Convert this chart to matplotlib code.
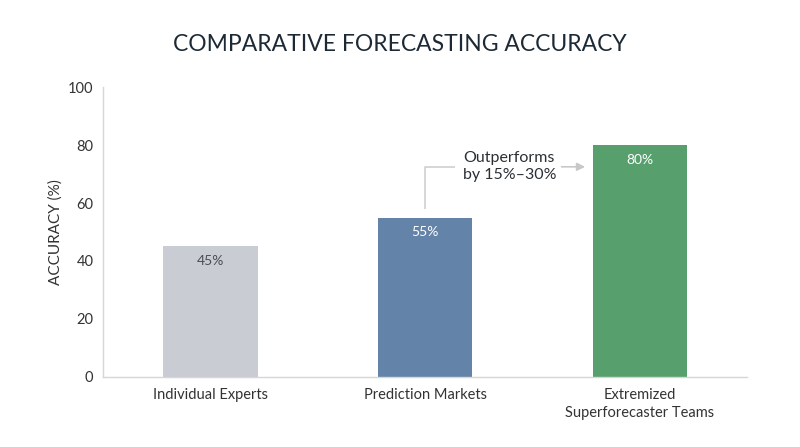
import matplotlib
matplotlib.use("Agg")
import matplotlib.pyplot as plt

plt.rcParams['font.family'] = ['Lato', 'DejaVu Sans']

categories = ['Individual Experts', 'Prediction Markets', 'Extremized\nSuperforecaster Teams']
accuracy = [45, 55, 80]
bar_labels = ['45%', '55%', '80%']
colors = ['#c9ccd2', '#6383a9', '#57a06d']
label_colors = ['#4a4f55', '#ffffff', '#ffffff']
yticks = [0, 20, 40, 60, 80, 100]
note = 'Outperforms\nby 15%–30%'

fig = plt.figure(figsize=(8, 4.47), dpi=100)
ax = fig.add_axes([0.129, 0.157, 0.805, 0.648])

x = range(len(categories))
bars = ax.bar(x, accuracy, width=0.44, color=colors)

for b, lab, c in zip(bars, bar_labels, label_colors):
    ax.text(b.get_x() + b.get_width() / 2, b.get_height() - 5, lab,
            ha='center', va='center', fontsize=10, color=c)

ax.set_xlim(-0.5, 2.5)
ax.set_ylim(0, 100)
ax.set_yticks(yticks)
ax.set_xticks(list(x))
ax.set_xticklabels(categories, fontsize=10.5, color='#333333', linespacing=1.35)
ax.tick_params(axis='both', length=0, labelsize=10.5, colors='#333333')
ax.tick_params(axis='x', pad=8)
ax.tick_params(axis='y', pad=7)

for s in ['top', 'right']:
    ax.spines[s].set_visible(False)
for s in ['left', 'bottom']:
    ax.spines[s].set_color('#d6d6d6')
    ax.spines[s].set_linewidth(1)

ax.set_ylabel('ACCURACY (%)', fontsize=11, color='#333333', labelpad=4)

# annotation: elbow line from the middle bar to the text, arrow towards the top bar
line_y = 72.5
ax.plot([1, 1, 1.14], [58, line_y, line_y], color='#d0d0d0', lw=1.2, solid_capstyle='butt')
ax.text(1.175, line_y, note, ha='left', va='center', fontsize=11.5, color='#2b3036',
        linespacing=1.25)
ax.annotate('', xy=(1.745, line_y), xytext=(1.635, line_y),
            arrowprops=dict(arrowstyle='-|>', color='#c8c8c8', lw=1.2,
                            mutation_scale=12, shrinkA=0, shrinkB=0))

fig.suptitle('COMPARATIVE FORECASTING ACCURACY', y=0.925, fontsize=16.5, color='#1d2a35')

fig.savefig('out.png', dpi=100)
